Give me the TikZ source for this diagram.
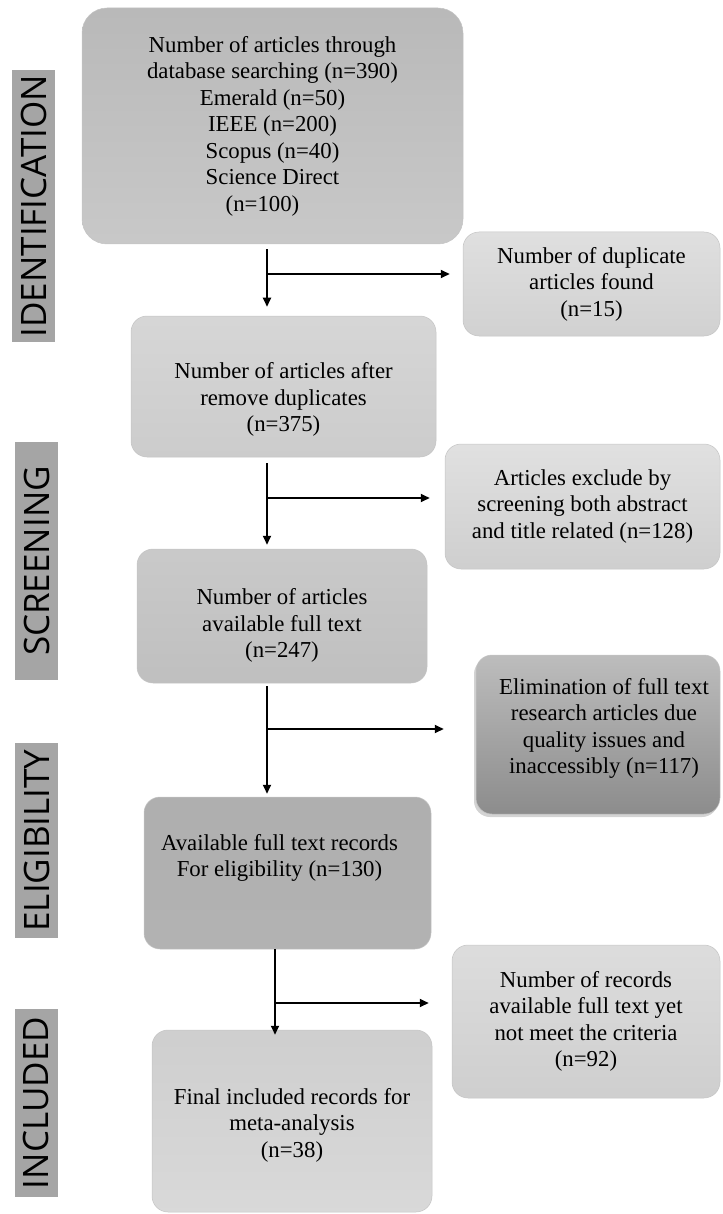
\documentclass[tikz,border=0pt]{standalone}
\usepackage{fontspec}
\setmainfont{Liberation Serif}
\newfontfamily\stagefont{Open Sans}
\usetikzlibrary{positioning, calc, arrows.meta, shadows}

\definecolor{stagegray}{HTML}{A5A5A5}
\definecolor{edgegray}{HTML}{C4C4C4}

\begin{document}
\begin{tikzpicture}[
  x=1pt, y=-1pt,
  box/.style={rectangle, draw=edgegray, line width=0.5pt, rounded corners=16pt, align=center, inner sep=0pt, font=\fontsize{22.8}{26.5}\selectfont},
  stage/.style={rectangle, fill=stagegray, rotate=90, minimum height=43pt, inner sep=0pt, font=\stagefont\fontsize{35}{40}\selectfont},
  arrow/.style={-{Triangle[length=9pt, width=8pt]}, line width=1.8pt}
]
\useasboundingbox (0,0) rectangle (722,1214);

%--------------------------------------
% Stage labels
%--------------------------------------
\node[stage, minimum width=272pt] (identification) at (33.5,206) {IDENTIFICATION};
\node[stage, minimum width=238pt] (screening) at (36.5,561) {SCREENING};
\node[stage, minimum width=195pt] (eligibility) at (36.5,840.5) {ELIGIBILITY};
\node[stage, minimum width=188pt] (included) at (36,1103) {INCLUDED};

%--------------------------------------
% Main flow
%--------------------------------------
\node[box, rounded corners=25pt, top color=gray!55, bottom color=gray!43, minimum width=381pt, minimum height=236pt] (search) at (272.5,126)
  {Number of articles through\\database searching (n=390)\\Emerald (n=50)\\IEEE (n=200)\\Scopus (n=40)\\Science Direct\\(n=100)\hspace*{20pt}};
\node[box, top color=gray!32, bottom color=gray!40, minimum width=305pt, minimum height=141pt] (deduplicated) at (283.5,386.5)
  {\rule{0pt}{42pt}Number of articles after\\remove duplicates\\(n=375)};
\node[box, top color=gray!42, bottom color=gray!50, minimum width=290pt, minimum height=134pt] (fulltext) at (282,616)
  {\rule{0pt}{35pt}Number of articles\\available full text\\(n=247)};
\node[box, top color=gray!63, bottom color=gray!60, minimum width=287pt, minimum height=152pt] (eligible) at (287.5,873)
  {Available full text records\hspace*{16pt}\\For eligibility (n=130)\hspace*{16pt}\rule[-35pt]{0pt}{35pt}};
\node[box, top color=gray!38, bottom color=gray!30, minimum width=280pt, minimum height=182pt] (final) at (292,1121)
  {\rule{0pt}{24pt}Final included records for\\meta-analysis\\(n=38)};

%--------------------------------------
% Excluded records
%--------------------------------------
\node[box, top color=gray!25, bottom color=gray!36, minimum width=257pt, minimum height=104pt] (duplicates) at (591.5,284)
  {Number of duplicate\\articles found\\(n=15)};
\node[box, top color=gray!24, bottom color=gray!38, minimum width=275pt, minimum height=125pt] (screened_out) at (582.5,506.5)
  {Articles exclude by\\screening both abstract\\and title related (n=128)};
\node[box, top color=gray!52, bottom color=black!45, drop shadow={shadow xshift=-2pt, shadow yshift=-3pt, opacity=0.35}, minimum width=244pt, minimum height=159pt] (eliminated) at (598,734.5)
  {\hspace*{12pt}Elimination of full text\\\hspace*{12pt}research articles due\\\hspace*{12pt}quality issues and\\\hspace*{12pt}inaccessibly (n=117)\rule[-17pt]{0pt}{17pt}};
\node[box, top color=gray!27, bottom color=gray!38, minimum width=268pt, minimum height=153pt] (not_meet) at (586,1021.5)
  {Number of records\\available full text yet\\not meet the criteria\\(n=92)};

%--------------------------------------
% Arrows
%--------------------------------------
\coordinate (split1) at (267,274);
\coordinate (split2) at (267,498);
\coordinate (split3) at (267,729);
\coordinate (split4) at (275,1003);

\draw[arrow, shorten <=5pt, shorten >=9pt] (search.south -| split1) -- (deduplicated.north -| split1);
\draw[arrow, shorten >=13pt] (split1) -- (duplicates.west |- split1);

\draw[arrow, shorten <=6pt, shorten >=4pt] (deduplicated.south -| split2) -- (fulltext.north -| split2);
\draw[arrow, shorten >=15pt] (split2) -- (screened_out.west |- split2);

\draw[arrow, shorten <=3pt, shorten >=3pt] (fulltext.south -| split3) -- (eligible.north -| split3);
\draw[arrow, shorten >=32pt] (split3) -- (eliminated.west |- split3);

\draw[arrow, shorten >=-5pt] (eligible.south -| split4) -- (final.north -| split4);
\draw[arrow, shorten >=23pt] (split4) -- (not_meet.west |- split4);

\end{tikzpicture}
\end{document}
